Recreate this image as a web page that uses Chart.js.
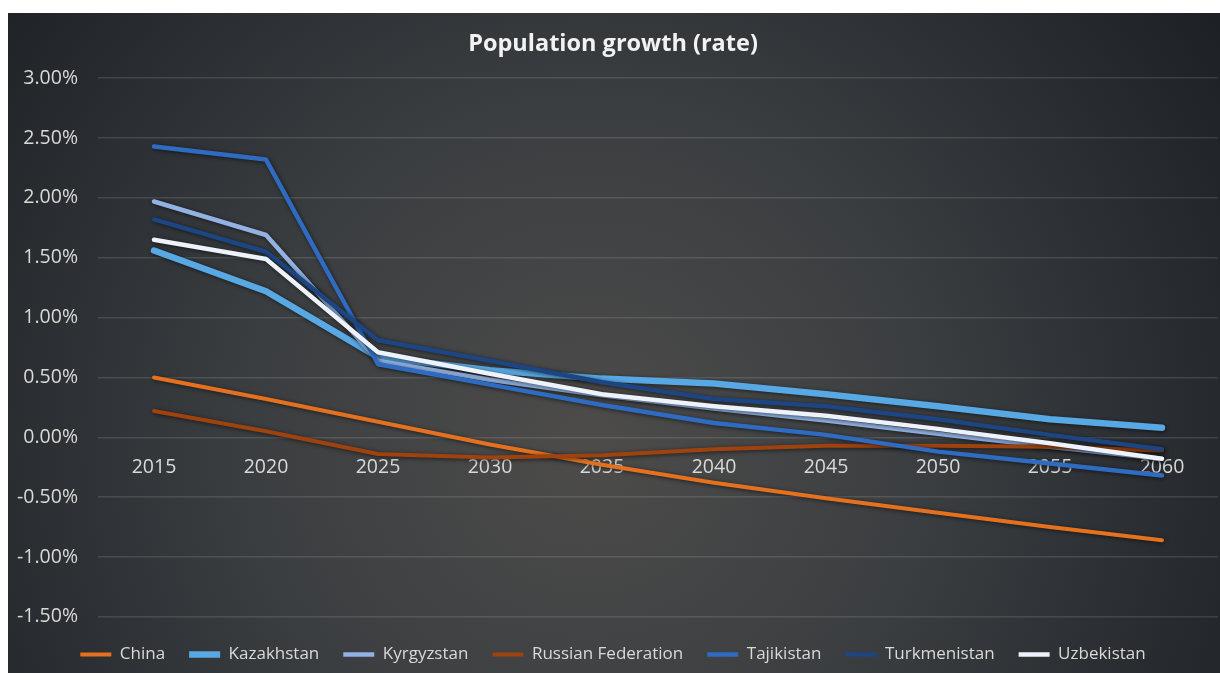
<!DOCTYPE html>
<html lang="en">
  <head>
    <meta charset="UTF-8" />
    <title>Population growth (rate)</title>
    <script src="https://cdn.jsdelivr.net/npm/chart.js"></script>
    <style>
      body { margin: 0; background: #fff; overflow: hidden; }
      #wrap { position: absolute; left: 8px; top: 13px; width: 1212px; height: 660px; }
    </style>
  </head>
  <body>
    <div id="wrap"><canvas id="myChart" width="1212" height="660"></canvas></div>
    <script>
      // growth rate in percent, one value per year
      const years = ["2015", "2020", "2025", "2030", "2035", "2040", "2045", "2050", "2055", "2060"];
      const china = [0.50, 0.32, 0.13, -0.06, -0.23, -0.38, -0.51, -0.63, -0.75, -0.86];
      const kazakhstan = [1.56, 1.22, 0.67, 0.56, 0.49, 0.45, 0.36, 0.26, 0.15, 0.08];
      const kyrgyzstan = [1.97, 1.69, 0.64, 0.48, 0.35, 0.24, 0.14, 0.03, -0.08, -0.18];
      const russia = [0.22, 0.05, -0.14, -0.17, -0.15, -0.10, -0.07, -0.07, -0.08, -0.11];
      const tajikistan = [2.43, 2.32, 0.61, 0.44, 0.27, 0.12, 0.02, -0.12, -0.22, -0.32];
      const turkmenistan = [1.82, 1.55, 0.81, 0.64, 0.46, 0.32, 0.26, 0.15, 0.02, -0.10];
      const uzbekistan = [1.65, 1.49, 0.71, 0.53, 0.36, 0.26, 0.18, 0.07, -0.05, -0.18];
      const yTicks = [3, 2.5, 2, 1.5, 1, 0.5, 0, -0.5, -1, -1.5];

      const txt = "#d9d9d9";
      const font = "'Open Sans', 'Noto Sans', sans-serif";

      // dark background with a lighter patch in the middle
      const bgPlugin = {
        id: "bg",
        beforeDraw(chart) {
          const { ctx, width, height } = chart;
          const g = ctx.createRadialGradient(580, 430, 20, 580, 430, 760);
          g.addColorStop(0, "#4c4b4a");
          g.addColorStop(0.45, "#3a3d40");
          g.addColorStop(1, "#1d2024");
          ctx.save();
          ctx.fillStyle = g;
          ctx.fillRect(0, 0, width, height);
          ctx.restore();
        },
      };

      // soft dark shadow under each line
      const shadowPlugin = {
        id: "lineShadow",
        beforeDatasetDraw(chart) {
          const ctx = chart.ctx;
          ctx.save();
          ctx.shadowColor = "rgba(0,0,0,0.6)";
          ctx.shadowBlur = 4;
          ctx.shadowOffsetX = 1;
          ctx.shadowOffsetY = 1;
        },
        afterDatasetDraw(chart) {
          chart.ctx.restore();
        },
      };

      function series(label, data, color, width, order) {
        return {
          label: label,
          data: data,
          borderColor: color,
          backgroundColor: color,
          borderWidth: width,
          pointRadius: 0,
          pointHoverRadius: 0,
          tension: 0,
          borderCapStyle: "round",
          borderJoinStyle: "round",
          order: order,
        };
      }

      new Chart(document.getElementById("myChart"), {
        type: "line",
        data: {
          labels: years,
          datasets: [
            series("China", china, "#e4711f", 4, 7),
            series("Kazakhstan", kazakhstan, "#58a8e4", 6.5, 6),
            series("Kyrgyzstan", kyrgyzstan, "#92b2e4", 4.5, 5),
            series("Russian Federation", russia, "#9e420f", 4, 4),
            series("Tajikistan", tajikistan, "#2f6bc0", 4.5, 3),
            series("Turkmenistan", turkmenistan, "#1d4581", 4.5, 2),
            series("Uzbekistan", uzbekistan, "#edf2fb", 4.5, 1),
          ],
        },
        options: {
          responsive: false,
          animation: false,
          layout: { padding: { left: 0, right: 2, top: 10, bottom: 0 } },
          plugins: {
            title: {
              display: true,
              text: "Population growth (rate)",
              color: "#f2f2f2",
              font: { family: font, size: 23.5, weight: "bold" },
              padding: { top: 7, bottom: 20 },
            },
            legend: {
              position: "bottom",
              title: { display: true, text: " ", font: { size: 1 }, padding: { top: 4, bottom: 0 } },
              labels: {
                usePointStyle: true,
                pointStyle: "line",
                pointStyleWidth: 31,
                color: txt,
                padding: 24,
                font: { family: font, size: 17 },
                sort: (a, b) => a.datasetIndex - b.datasetIndex,
              },
            },
            tooltip: { enabled: false },
          },
          scales: {
            x: {
              position: { y: 0 },
              offset: true,
              grid: { display: false },
              border: { display: false },
              ticks: { color: txt, padding: 10, font: { family: font, size: 19.5 } },
            },
            y: {
              min: -1.5,
              max: 3,
              afterBuildTicks(axis) {
                axis.ticks = yTicks.map((v) => ({ value: v }));
              },
              afterFit(axis) {
                axis.width = 90;
              },
              grid: { color: "rgba(255,255,255,0.12)", drawTicks: false, lineWidth: 1.5 },
              border: { display: false },
              ticks: {
                color: txt,
                padding: 20,
                font: { family: font, size: 19.5 },
                callback: (v) => v.toFixed(2) + "%",
              },
            },
          },
        },
        plugins: [bgPlugin, shadowPlugin],
      });
    </script>
  </body>
</html>
